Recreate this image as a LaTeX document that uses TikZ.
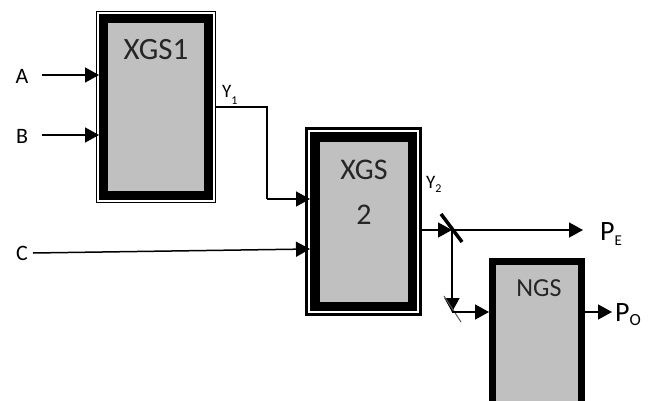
\documentclass[tikz,border=0pt]{standalone}
\usepackage{fontspec}
\setmainfont{Carlito}
\usetikzlibrary{arrows.meta,fit}
\definecolor{gatefill}{RGB}{192,192,192}
\definecolor{inkgray}{RGB}{90,90,90}
\begin{document}
\begin{tikzpicture}[x=1pt,y=-1pt,
  gate/.style={draw=black, fill=gatefill, inner sep=0pt},
  frame/.style={draw=black, inner sep=#1, fill=none},
  lbl/.style={inner sep=0pt, text=black},
  wire/.style={line width=1.5pt, draw=black},
  sig/.style={line width=1.5pt, draw=black, -{Triangle[length=14pt,width=15pt]}},
  splitter/.style={line width=3.5pt, draw=black},
  thinsplit/.style={line width=1pt, draw=inkgray}
]
\useasboundingbox (0,0) rectangle (655,401);
\begin{scope}
\clip (0,0) rectangle (655,401);

% gates
\node[gate, line width=9pt, outer sep=4.5pt, minimum width=105pt, minimum height=177pt] (x1) at (156,107) {};
\node[frame=2.5pt, line width=1.6pt, fit=(x1)] (f1) {};
\node[gate, line width=9.5pt, outer sep=4.75pt, minimum width=97.5pt, minimum height=169.5pt] (x2) at (363.5,221.5) {};
\node[frame=3.5pt, line width=3pt, fit=(x2)] (f2) {};
\node[gate, line width=7pt, outer sep=3.5pt, minimum width=89pt, minimum height=155pt] (ngs) at (537,339) {};

% gate texts
\node[lbl, font=\fontsize{31}{31}\selectfont, text=black!85] (t1) at (156,50) {XGS1};
\node[lbl, font=\fontsize{30}{30}\selectfont, text=black!85] (t2a) at (364,170) {XGS};
\node[lbl, font=\fontsize{30}{30}\selectfont, text=black!85] (t2b) at (364,215) {2};
\node[lbl, font=\fontsize{26}{26}\selectfont, text=black!85] (t3) at (539,288) {NGS};

% inputs
\node[lbl, font=\fontsize{22}{22}\selectfont] (A) at (22,76) {A};
\node[lbl, font=\fontsize{22}{22}\selectfont] (B) at (22,136) {B};
\node[lbl, font=\fontsize{22}{22}\selectfont] (C) at (22,253) {C};
\coordinate (a0) at (42,75);
\coordinate (b0) at (42,135);
\coordinate (c0) at (33,253);
\draw[sig] (a0) -- (x1.west |- a0);
\draw[sig] (b0) -- (x1.west |- b0);
\draw[sig] (c0) -- (x2.west |- 0,249);

% Y1
\node[lbl, anchor=base west, font=\fontsize{19}{19}\selectfont] (y1l) at (222,98) {Y\raisebox{-6pt}{\fontsize{12}{12}\selectfont 1}};
\coordinate (y1a) at (267,107);
\coordinate (y1b) at (267,199);
\draw[wire] (f1.east |- y1a) -- (y1a) -- (y1b);
\draw[sig] (y1b) -- (x2.west |- y1b);

% Y2 and splitters
\node[lbl, anchor=base west, font=\fontsize{19}{19}\selectfont] (y2l) at (426,188) {Y\raisebox{-4pt}{\fontsize{12}{12}\selectfont 2}};
\coordinate (sp1) at (452,230);
\coordinate (sp2) at (452,312);
\draw[sig] (f2.east |- sp1) -- (sp1);
\draw[splitter] (441,214) -- (462,242);
\node[lbl, anchor=base west, font=\fontsize{28}{28}\selectfont] (pe) at (600,240) {P\raisebox{-5pt}{\fontsize{15}{15}\selectfont E}};
\coordinate (pe0) at (583,230);
\draw[sig] (sp1) -- (pe0);
\draw[sig] (sp1) -- (sp2);
\draw[thinsplit] (444,296) -- (461,322);
\draw[sig] (sp2) -- (ngs.west |- sp2);

% PO
\node[lbl, anchor=base west, font=\fontsize{28}{28}\selectfont] (po) at (615,321) {P\raisebox{-4pt}{\fontsize{17}{17}\selectfont O}};
\coordinate (po0) at (612,312);
\draw[sig] (ngs.east |- sp2) -- (po0);
\end{scope}
\end{tikzpicture}
\end{document}
